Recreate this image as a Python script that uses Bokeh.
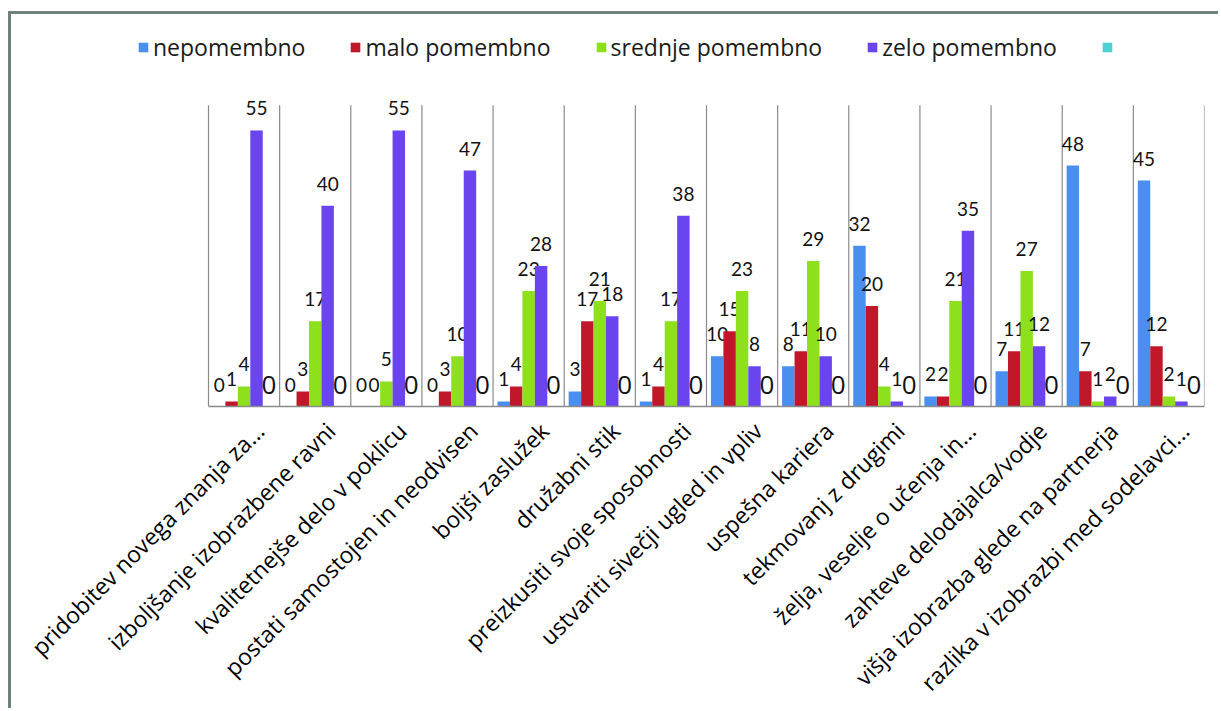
import math
from bokeh.plotting import figure
from bokeh.models import (ColumnDataSource, FixedTicker, Legend, LegendItem, Range1d)
from bokeh.transform import dodge
from bokeh.core.properties import value
from bokeh.embed import file_html
from bokeh.resources import INLINE

categories = [
    "pridobitev novega znanja za...",
    "izboljšanje izobrazbene ravni",
    "kvalitetnejše delo v poklicu",
    "postati samostojen in neodvisen",
    "boljši zaslužek",
    "družabni stik",
    "preizkusiti svoje sposobnosti",
    "ustvariti sivečji ugled in vpliv",
    "uspešna kariera",
    "tekmovanj z drugimi",
    "želja, veselje o učenja in...",
    "zahteve delodajalca/vodje",
    "višja izobrazba glede na partnerja",
    "razlika v izobrazbi med sodelavci...",
]
series_names = ["nepomembno", "malo pomembno", "srednje pomembno", "zelo pomembno", ""]
nepomembno = [0, 0, 0, 0, 1, 3, 1, 10, 8, 32, 2, 7, 48, 45]
malo_pomembno = [1, 3, 0, 3, 4, 17, 4, 15, 11, 20, 2, 11, 7, 12]
srednje_pomembno = [4, 17, 5, 10, 23, 21, 17, 23, 29, 4, 21, 27, 1, 2]
zelo_pomembno = [55, 40, 55, 47, 28, 18, 38, 8, 10, 1, 35, 12, 2, 1]
peta_serija = [0] * 14
y_max = 60

series_values = [nepomembno, malo_pomembno, srednje_pomembno, zelo_pomembno, peta_serija]
colors = ["#4a8ef0", "#c0172a", "#8ee01c", "#6a44ee", "#4fcfcf"]

n = len(categories)
xs = list(range(n))
bw = 0.175
offsets = [-2 * bw, -bw, 0.0, bw, 2 * bw]
label_shift = 0.22

# page layout (pixels)
canvas_x0, canvas_y0 = 11, 14
frame_left, frame_right, frame_top, frame_bottom = 120, 1204, 30, 407
plot_left, plot_top = 208, 105
px_x = (frame_right - plot_left) / n
px_y = (frame_bottom - plot_top) / y_max
x_start = -0.5 - (plot_left - frame_left) / px_x
y_end = y_max + (plot_top - frame_top) / px_y

p = figure(width=1221 - canvas_x0, height=711 - canvas_y0,
           output_backend="svg", toolbar_location=None,
           x_range=Range1d(x_start, n - 0.5), y_range=Range1d(0, y_end),
           min_border_left=frame_left - canvas_x0, min_border_right=1221 - frame_right,
           min_border_top=frame_top - canvas_y0, min_border_bottom=711 - frame_bottom)
p.margin = (11, 0, 0, 8)
p.styles = {"border-left": "3px solid #70807b", "border-top": "3px solid #70807b"}
p.background_fill_color = "white"
p.border_fill_color = "white"
p.outline_line_color = None
p.yaxis.visible = False
p.ygrid.visible = False
p.xgrid.visible = False

p.xaxis.ticker = FixedTicker(ticks=[i + label_shift for i in xs])
p.xaxis.major_label_overrides = {i + label_shift: c for i, c in enumerate(categories)}
p.xaxis.bounds = (-0.5, n - 0.5)
p.xaxis.major_label_orientation = math.pi / 4
p.xaxis.major_label_text_font = "Open Sans"
p.xaxis.major_label_text_font_size = "23px"
p.xaxis.major_label_text_color = "#000000"
p.xaxis.major_tick_line_color = None
p.xaxis.minor_tick_line_color = None
p.xaxis.axis_line_color = "#8a8a8a"
p.xaxis.axis_line_width = 1.5
p.xaxis.major_label_standoff = 14

bounds = [i - 0.5 for i in range(n + 1)]
p.segment(x0=bounds, y0=[0] * len(bounds), x1=bounds, y1=[y_max] * len(bounds),
          line_color="#8a8a8a", line_width=1.2)

items = []
for name, vals, col, off in zip(series_names, series_values, colors, offsets):
    src = ColumnDataSource(dict(x=xs, y=vals, t=[str(v) for v in vals]))
    r = p.vbar(x=dodge("x", off), top="y", width=bw, source=src,
               fill_color=col, line_color=None)
    is_last = name == ""
    p.text(x=dodge("x", off), y="y", text="t", source=src,
           text_align="center", text_baseline="bottom",
           y_offset=-13 if is_last else -15,
           text_font=value("Open Sans" if is_last else "Lato"),
           text_font_size="26px" if is_last else "19px",
           text_color="#111111")
    items.append(LegendItem(label=name, renderers=[r]))

legend = Legend(items=items, orientation="horizontal",
                location=(137 - frame_left, frame_bottom - 64),
                glyph_width=12, glyph_height=12, label_standoff=4, spacing=44,
                padding=0, margin=0, border_line_color=None,
                background_fill_alpha=0,
                label_text_font="Open Sans", label_text_font_size="23px",
                label_text_color="#1a1a1a")
p.add_layout(legend, "center")

open("out.html", "w").write(file_html(p, INLINE))
